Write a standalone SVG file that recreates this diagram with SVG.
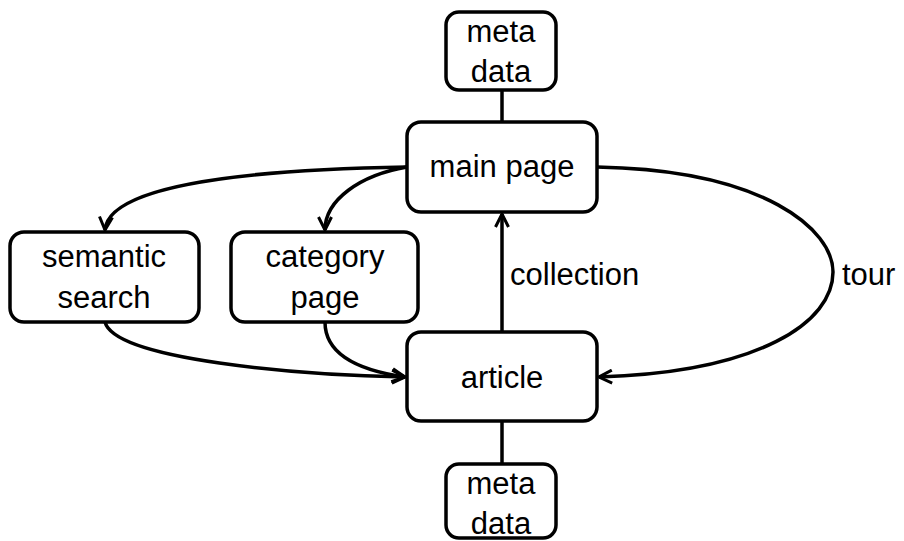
<svg xmlns="http://www.w3.org/2000/svg" width="904" height="541" viewBox="0 0 904 541">
<style>
.box{fill:#fff;stroke:#000;stroke-width:3.5}
.t{font-family:"Liberation Sans",Arial,sans-serif;font-size:31px;fill:#000;text-anchor:middle}
.lbl{font-family:"Liberation Sans",Arial,sans-serif;font-size:31px;fill:#000}
.c{fill:none;stroke:#000;stroke-width:3.5}
</style>
<defs>
<marker id="ah" viewBox="0 0 16 16" refX="14" refY="8" markerWidth="16" markerHeight="16" markerUnits="userSpaceOnUse" orient="auto">
<path d="M1,1.5 L14,8 L1,14.5" fill="none" stroke="#000" stroke-width="3"/>
</marker>
</defs>
<rect width="904" height="541" fill="#fff"/>
<g id="connectors">
<line class="c" x1="502" y1="90" x2="502" y2="122"/>
<line class="c" x1="502" y1="421" x2="502" y2="464"/>
<path class="c" d="M502,332 L502,214" marker-end="url(#ah)"/>
<path class="c" d="M407,167 C220,170 108,190 105,230" marker-end="url(#ah)"/>
<path class="c" d="M407,167 C360,175 325,200 325,230" marker-end="url(#ah)"/>
<path class="c" d="M105,322 C115,360 300,375 405,377" marker-end="url(#ah)"/>
<path class="c" d="M325,322 C325,360 370,372 405,377" marker-end="url(#ah)"/>
<path class="c" d="M597,167 C765,170 833,230 833,272 C833,322 760,372 599,377" marker-end="url(#ah)"/>
<text class="lbl" x="510" y="285">collection</text>
<text class="lbl" x="842" y="285">tour</text>
</g>
<g id="meta-top">
<rect class="box" x="446" y="12" width="110" height="78" rx="13"/>
<text class="t" x="501" y="42">meta</text>
<text class="t" x="501" y="82">data</text>
</g>
<g id="main-page">
<rect class="box" x="407" y="122" width="190" height="90" rx="14"/>
<text class="t" x="502" y="177">main page</text>
</g>
<g id="semantic-search">
<rect class="box" x="10" y="232" width="189" height="90" rx="14"/>
<text class="t" x="104" y="267">semantic</text>
<text class="t" x="104" y="308">search</text>
</g>
<g id="category-page">
<rect class="box" x="231" y="232" width="187" height="90" rx="14"/>
<text class="t" x="325" y="267">category</text>
<text class="t" x="325" y="308">page</text>
</g>
<g id="article">
<rect class="box" x="407" y="332" width="190" height="89" rx="14"/>
<text class="t" x="502" y="388">article</text>
</g>
<g id="meta-bottom">
<rect class="box" x="446" y="464" width="110" height="74" rx="13"/>
<text class="t" x="501" y="494">meta</text>
<text class="t" x="501" y="534">data</text>
</g>
</svg>
